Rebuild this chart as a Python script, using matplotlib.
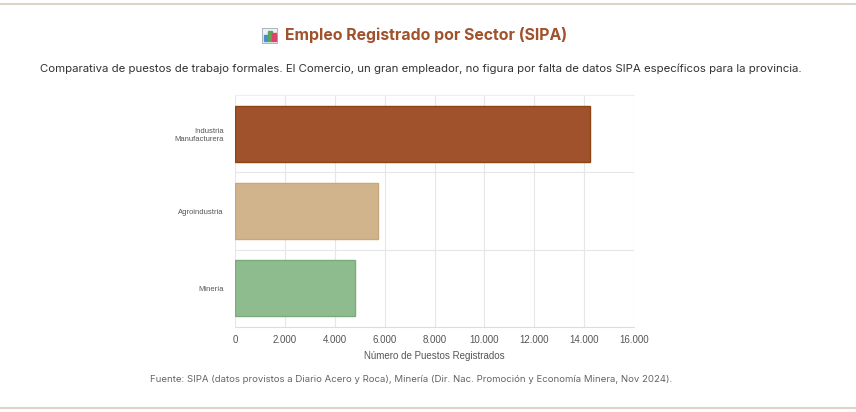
import matplotlib.pyplot as plt
from matplotlib.patches import Rectangle
from matplotlib.ticker import FuncFormatter

sectors = ["Industria\nManufacturera", "Agroindustria", "Minería"]
puestos = [14250, 5720, 4800]
colors = ["#a0522d", "#d2b48c", "#8fbc8f"]
edges = ["#8b4513", "#c8a87a", "#7aab7a"]

W, H = 856, 412
fig = plt.figure(figsize=(W / 100, H / 100), dpi=100)
fig.patch.set_facecolor("white")

# card borders
fig.add_artist(plt.Line2D([0, 1], [1 - 4 / H, 1 - 4 / H], color="#ddd3c8", lw=1.5))
fig.add_artist(plt.Line2D([0, 1], [1 - 408 / H, 1 - 408 / H], color="#ddd3c8", lw=1.5))

ax = fig.add_axes([235 / W, 1 - 327 / H, (634 - 235) / W, (327 - 95) / H])
y = list(range(len(sectors)))
ax.barh(y, puestos, height=0.72, color=colors, edgecolor=edges, linewidth=1)
ax.set_ylim(2.5, -0.5)
ax.set_xlim(0, 16000)
ax.set_xticks(range(0, 16001, 2000))
ax.xaxis.set_major_formatter(FuncFormatter(lambda v, p: f"{int(v):,}".replace(",", ".")))
ax.set_yticks(y)
ax.set_yticklabels(sectors, fontsize=5.5, color="#555555", linespacing=1.3,
                   family="Liberation Sans")
for t in ax.get_xticklabels():
    t.set_family("Liberation Sans")
ax.tick_params(axis="x", labelsize=7, colors="#555555", length=0, pad=6)
ax.tick_params(axis="y", length=0, pad=8)
ax.set_yticks([0.5, 1.5], minor=True)
ax.tick_params(axis="y", which="minor", length=0)
ax.grid(axis="x", color="#e6e6e6", lw=0.8)
ax.grid(axis="y", which="minor", color="#e6e6e6", lw=0.8)
ax.set_axisbelow(True)
for s in ["right", "left"]:
    ax.spines[s].set_visible(False)
ax.spines["top"].set_color("#eeeeee")
ax.spines["bottom"].set_color("#dddddd")
ax.set_xlabel("Número de Puestos Registrados", fontsize=7, color="#555555", labelpad=4,
              family="Liberation Sans")

# title icon
fig.add_artist(Rectangle((262 / W, 1 - 43 / H), 15 / W, 15 / H, fc="#eef2f6",
                         ec="#9aa8b8", lw=0.6, transform=fig.transFigure))
for i, (h, c) in enumerate([(0.5, "#4a90c8"), (0.85, "#5aa55a"), (0.65, "#d9456b")]):
    fig.add_artist(Rectangle((264 / W + i * 4 / W, 1 - 41 / H), 3.5 / W, h * 12 / H,
                             color=c, transform=fig.transFigure))
fig.text(285 / W, 1 - 35 / H, "Empleo Registrado por Sector (SIPA)", fontsize=11.4,
         fontweight="bold", color="#a0522d", va="center", family="Inter")
fig.text(40 / W, 1 - 69 / H,
         "Comparativa de puestos de trabajo formales. El Comercio, un gran empleador, no figura por falta de datos SIPA específicos para la provincia.",
         fontsize=8.2, color="#333333", va="center", family="Inter")
fig.text(0.48, 1 - 380 / H,
         "Fuente: SIPA (datos provistos a Diario Acero y Roca), Minería (Dir. Nac. Promoción y Economía Minera, Nov 2024).",
         fontsize=6.9, color="#666666", ha="center", va="center", family="Inter")

fig.savefig("out.png", dpi=100, facecolor="white")
